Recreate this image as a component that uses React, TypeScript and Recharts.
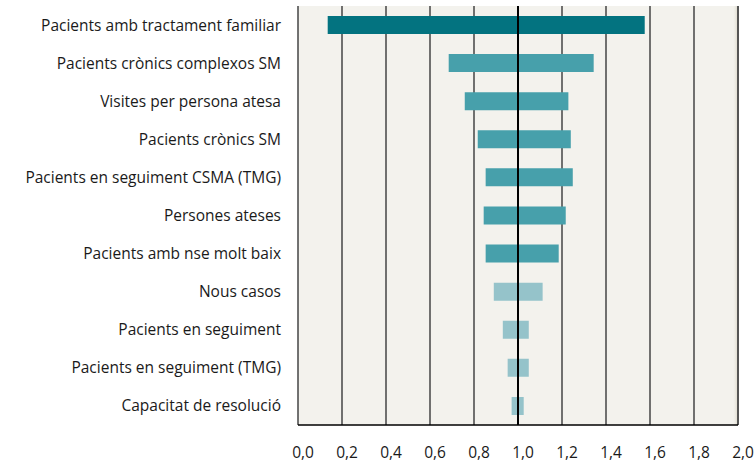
import React from 'react';
import { BarChart, Bar, XAxis, YAxis, CartesianGrid, ReferenceLine, ReferenceArea, Cell } from 'recharts';

const categories = [
  'Pacients amb tractament familiar',
  'Pacients crònics complexos SM',
  'Visites per persona atesa',
  'Pacients crònics SM',
  'Pacients en seguiment CSMA (TMG)',
  'Persones ateses',
  'Pacients amb nse molt baix',
  'Nous casos',
  'Pacients en seguiment',
  'Pacients en seguiment (TMG)',
  'Capacitat de resolució',
];

const lowValues = [0.135, 0.685, 0.758, 0.817, 0.853, 0.844, 0.853, 0.89, 0.931, 0.953, 0.971];
const highValues = [1.576, 1.344, 1.229, 1.24, 1.249, 1.217, 1.185, 1.112, 1.049, 1.049, 1.026];

const xTicks = [0, 0.2, 0.4, 0.6, 0.8, 1.0, 1.2, 1.4, 1.6, 1.8, 2.0];

// bar colour per row (dark, medium, light)
const barColors = [
  '#037380', '#47a0ab', '#47a0ab', '#47a0ab', '#47a0ab', '#47a0ab', '#47a0ab',
  '#95c3ca', '#95c3ca', '#95c3ca', '#95c3ca',
];

const data = categories.map((name, i) => ({
  name,
  range: [lowValues[i], highValues[i]],
}));

const fmt = (v: number) => v.toFixed(1).replace('.', ',');

const App = () => {
  return (
    <div style={{ position: 'fixed', top: 0, left: 0, width: 755, height: 463, overflow: 'hidden', background: '#fff' }}>
      <BarChart
        layout="vertical"
        width={755}
        height={463}
        data={data}
        margin={{ top: 6, right: 17, bottom: 8, left: 0 }}
        style={{ fontFamily: '"Open Sans", sans-serif' }}
      >
        <defs>
          <linearGradient id="edgeShade" x1="0" y1="0" x2="1" y2="0">
            <stop offset="0%" stopColor="#f3f2ed" stopOpacity={0} />
            <stop offset="100%" stopColor="#d8d3c4" stopOpacity={1} />
          </linearGradient>
        </defs>
        <CartesianGrid horizontal={false} stroke="#444" strokeWidth={1.5} fill="#f3f2ed" />
        <ReferenceArea x1={1.975} x2={2} fill="url(#edgeShade)" fillOpacity={1} stroke="none" />
        <XAxis
          type="number"
          domain={[0, 2]}
          ticks={xTicks}
          tickFormatter={fmt}
          tickLine={false}
          tickSize={0}
          tickMargin={22}
          height={30}
          axisLine={{ stroke: '#000', strokeWidth: 1.5 }}
          tick={{ fill: '#1a1a1a', fontSize: 15.5, dx: 5 }}
          interval={0}
        />
        <YAxis
          type="category"
          dataKey="name"
          width={298}
          tickLine={false}
          tickSize={0}
          tickMargin={17}
          axisLine={false}
          tick={{ fill: '#1a1a1a', fontSize: 15.5 }}
          interval={0}
        />
        <Bar dataKey="range" barSize={18} isAnimationActive={false}>
          {data.map((d, i) => (
            <Cell key={d.name} fill={barColors[i]} />
          ))}
        </Bar>
        <ReferenceLine x={1} stroke="#000" strokeWidth={2} />
        <ReferenceLine x={2} stroke="#555" strokeWidth={2} />
      </BarChart>
    </div>
  );
};

export default App;
